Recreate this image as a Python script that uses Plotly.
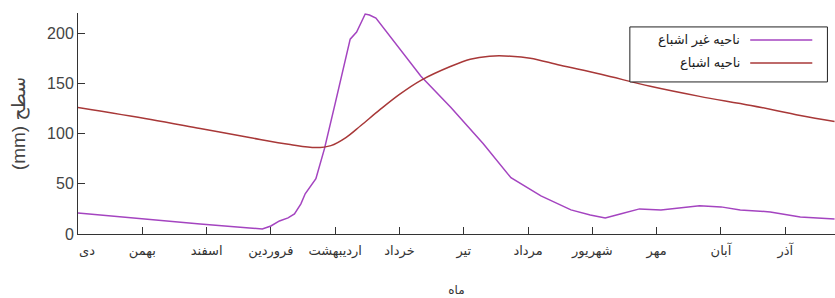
import plotly.graph_objects as go

# Months (Persian calendar), starting from Dey
months = ["\u00a0\u00a0\u00a0\u00a0\u00a0دی", "بهمن", "اسفند", "فروردین", "اردیبهشت", "خرداد",
          "تیر", "مرداد", "شهریور", "مهر", "آبان", "آذر"]
month_start_day = [0, 30, 60, 90, 120, 150, 180, 210, 240, 270, 300, 330]

# Unsaturated zone (purple)
unsat_day = [0, 10, 34, 57, 80, 86, 90, 94, 98, 101, 104, 106, 111, 115, 120, 125,
             127, 130, 132, 134, 136, 139, 160, 174, 189, 202, 216, 230, 239, 246,
             253, 262, 272, 281, 290, 300, 309, 323, 337, 353]
unsat_val = [21, 19, 14, 10, 6, 5, 8, 13, 16, 20, 30, 40, 55, 85, 130, 175,
             194, 201, 210, 219, 218, 215, 157, 126, 90, 56, 38, 24, 19, 16,
             20, 25, 24, 26, 28, 27, 24, 22, 17, 15]

# Saturated zone (red)
sat_day = [0, 34, 57, 80, 99, 111, 118, 125, 132, 141, 150, 160, 174, 183,
           192, 202, 211, 225, 244, 267, 290, 314, 337, 353]
sat_val = [126, 114, 105, 96, 89, 86, 88, 96, 108, 124, 139, 153, 167, 174,
           177, 177, 175, 168, 159, 147, 137, 128, 118, 112]

names = ["ناحیه غیر اشباع", "ناحیه اشباع"]
colors = ["#a444c0", "#a83838"]

fig = go.Figure()
fig.add_trace(go.Scatter(x=unsat_day, y=unsat_val, mode="lines", name=names[0],
                         line=dict(color=colors[0], width=1.5), showlegend=False))
fig.add_trace(go.Scatter(x=sat_day, y=sat_val, mode="lines", name=names[1],
                         line=dict(color=colors[1], width=1.5, shape="spline"),
                         showlegend=False))

font_fam = "Arial, Liberation Sans, DejaVu Sans, sans-serif"

# custom legend (text left, line sample right)
fig.add_shape(type="rect", xref="paper", yref="paper", x0=0.729, x1=0.99,
              y0=0.688, y1=0.937, line=dict(color="#222", width=1), fillcolor="white")
rows_y = [0.878, 0.774]
for i in range(2):
    fig.add_shape(type="line", xref="paper", yref="paper", x0=0.888, x1=0.97,
                  y0=rows_y[i], y1=rows_y[i], line=dict(color=colors[i], width=1.5))
    fig.add_annotation(xref="paper", yref="paper", x=0.877, y=rows_y[i],
                       xanchor="right", yanchor="middle", showarrow=False,
                       text=names[i], font=dict(size=13, color="#222", family=font_fam))

fig.update_layout(
    width=835, height=298,
    margin=dict(l=78, r=0, t=13, b=64),
    paper_bgcolor="white", plot_bgcolor="white",
    font=dict(family=font_fam, color="#333"),
    xaxis=dict(range=[0, 353.2], tickvals=month_start_day, ticktext=months,
               ticks="inside", ticklen=7, tickcolor="#333", showgrid=False,
               zeroline=False, showline=True, linecolor="#333", linewidth=1,
               automargin=False, ticklabelstandoff=4,
               tickfont=dict(size=13, color="#333"),
               title=dict(text="ماه", font=dict(size=12, color="#333"), standoff=28)),
    yaxis=dict(range=[0, 220], tickvals=[0, 50, 100, 150, 200],
               ticks="inside", ticklen=7, tickcolor="#333", showgrid=False,
               zeroline=False, showline=True, linecolor="#333", linewidth=1,
               automargin=False,
               tickfont=dict(size=16, color="#444"),
               title=dict(text="(mm) سطح", font=dict(size=19, color="#444"), standoff=16)),
)

fig.write_html("out.html", config={"displayModeBar": False},
               post_script="document.body.style.margin='0';document.body.style.padding='0';")
